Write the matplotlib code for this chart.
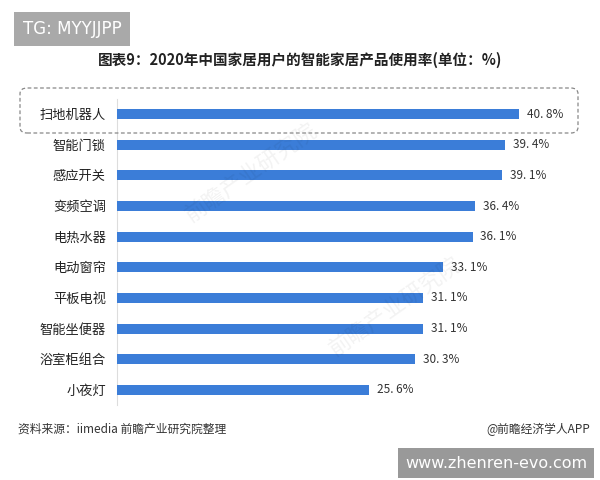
import matplotlib.pyplot as plt
from matplotlib.patches import FancyBboxPatch

plt.rcParams['font.family'] = ['Noto Sans CJK SC', 'DejaVu Sans']

categories = ['扫地机器人', '智能门锁', '感应开关', '变频空调', '电热水器',
              '电动窗帘', '平板电视', '智能坐便器', '浴室柜组合', '小夜灯']
values = [40.8, 39.4, 39.1, 36.4, 36.1, 33.1, 31.1, 31.1, 30.3, 25.6]
value_labels = ['40. 8%', '39. 4%', '39. 1%', '36. 4%', '36. 1%',
                '33. 1%', '31. 1%', '31. 1%', '30. 3%', '25. 6%']

fig = plt.figure(figsize=(6, 4.8), dpi=100)
ax = fig.add_axes([0.195, 0.156, 0.755, 0.638])

y = list(range(len(categories)))
ax.barh(y, values, height=0.33, color='#3b7dd8', zorder=3)
for yi, v, lab in zip(y, values, value_labels):
    ax.text(v + 0.8, yi, lab, va='center', ha='left', fontsize=8.5, color='#333333')

ax.set_xlim(0, 46)
ax.set_ylim(len(categories) - 0.5, -0.5)
ax.set_yticks(y)
ax.set_yticklabels(categories, fontsize=9.5, color='#222222')
ax.set_xticks([])
ax.tick_params(axis='y', length=0, pad=8)
for s in ['top', 'right', 'bottom']:
    ax.spines[s].set_visible(False)
ax.spines['left'].set_color('#dddddd')

# dashed highlight around the first row
box = FancyBboxPatch((20 / 600, 1 - 133 / 480), 558 / 600, 45 / 480,
                     boxstyle='round,pad=0,rounding_size=0.012',
                     transform=fig.transFigure, fill=False,
                     edgecolor='#888888', linestyle=(0, (3, 2)), linewidth=0.9)
fig.patches.append(box)

# faint watermarks
for wx, wy in [(0.42, 0.64), (0.66, 0.36)]:
    fig.text(wx, wy, '前瞻产业研究院', rotation=35, fontsize=16, color='#000000',
             alpha=0.05, ha='center', va='center', zorder=0)

fig.text(0.5, 1 - 60 / 480, '图表9：2020年中国家居用户的智能家居产品使用率(单位：%)',
         ha='center', va='center', fontsize=10.5, fontweight='bold', color='#222222')
fig.text(18 / 600, 1 - 429 / 480, '资料来源：iimedia 前瞻产业研究院整理',
         ha='left', va='center', fontsize=8.5, color='#333333')
fig.text(590 / 600, 1 - 429 / 480, '@前瞻经济学人APP',
         ha='right', va='center', fontsize=8.5, color='#333333')

fig.text(72 / 600, 1 - 29 / 480, 'TG: MYYJJPP', ha='center', va='center',
         fontsize=12, color='white', family='DejaVu Sans',
         bbox=dict(boxstyle='square,pad=0.5', facecolor='#a9a9a9', edgecolor='none'))
fig.text(496 / 600, 1 - 463 / 480, 'www.zhenren-evo.com', ha='center', va='center',
         fontsize=11.5, color='white', family='DejaVu Sans',
         bbox=dict(boxstyle='square,pad=0.45', facecolor='#999999', edgecolor='none'))

fig.savefig('out.png', dpi=100)
